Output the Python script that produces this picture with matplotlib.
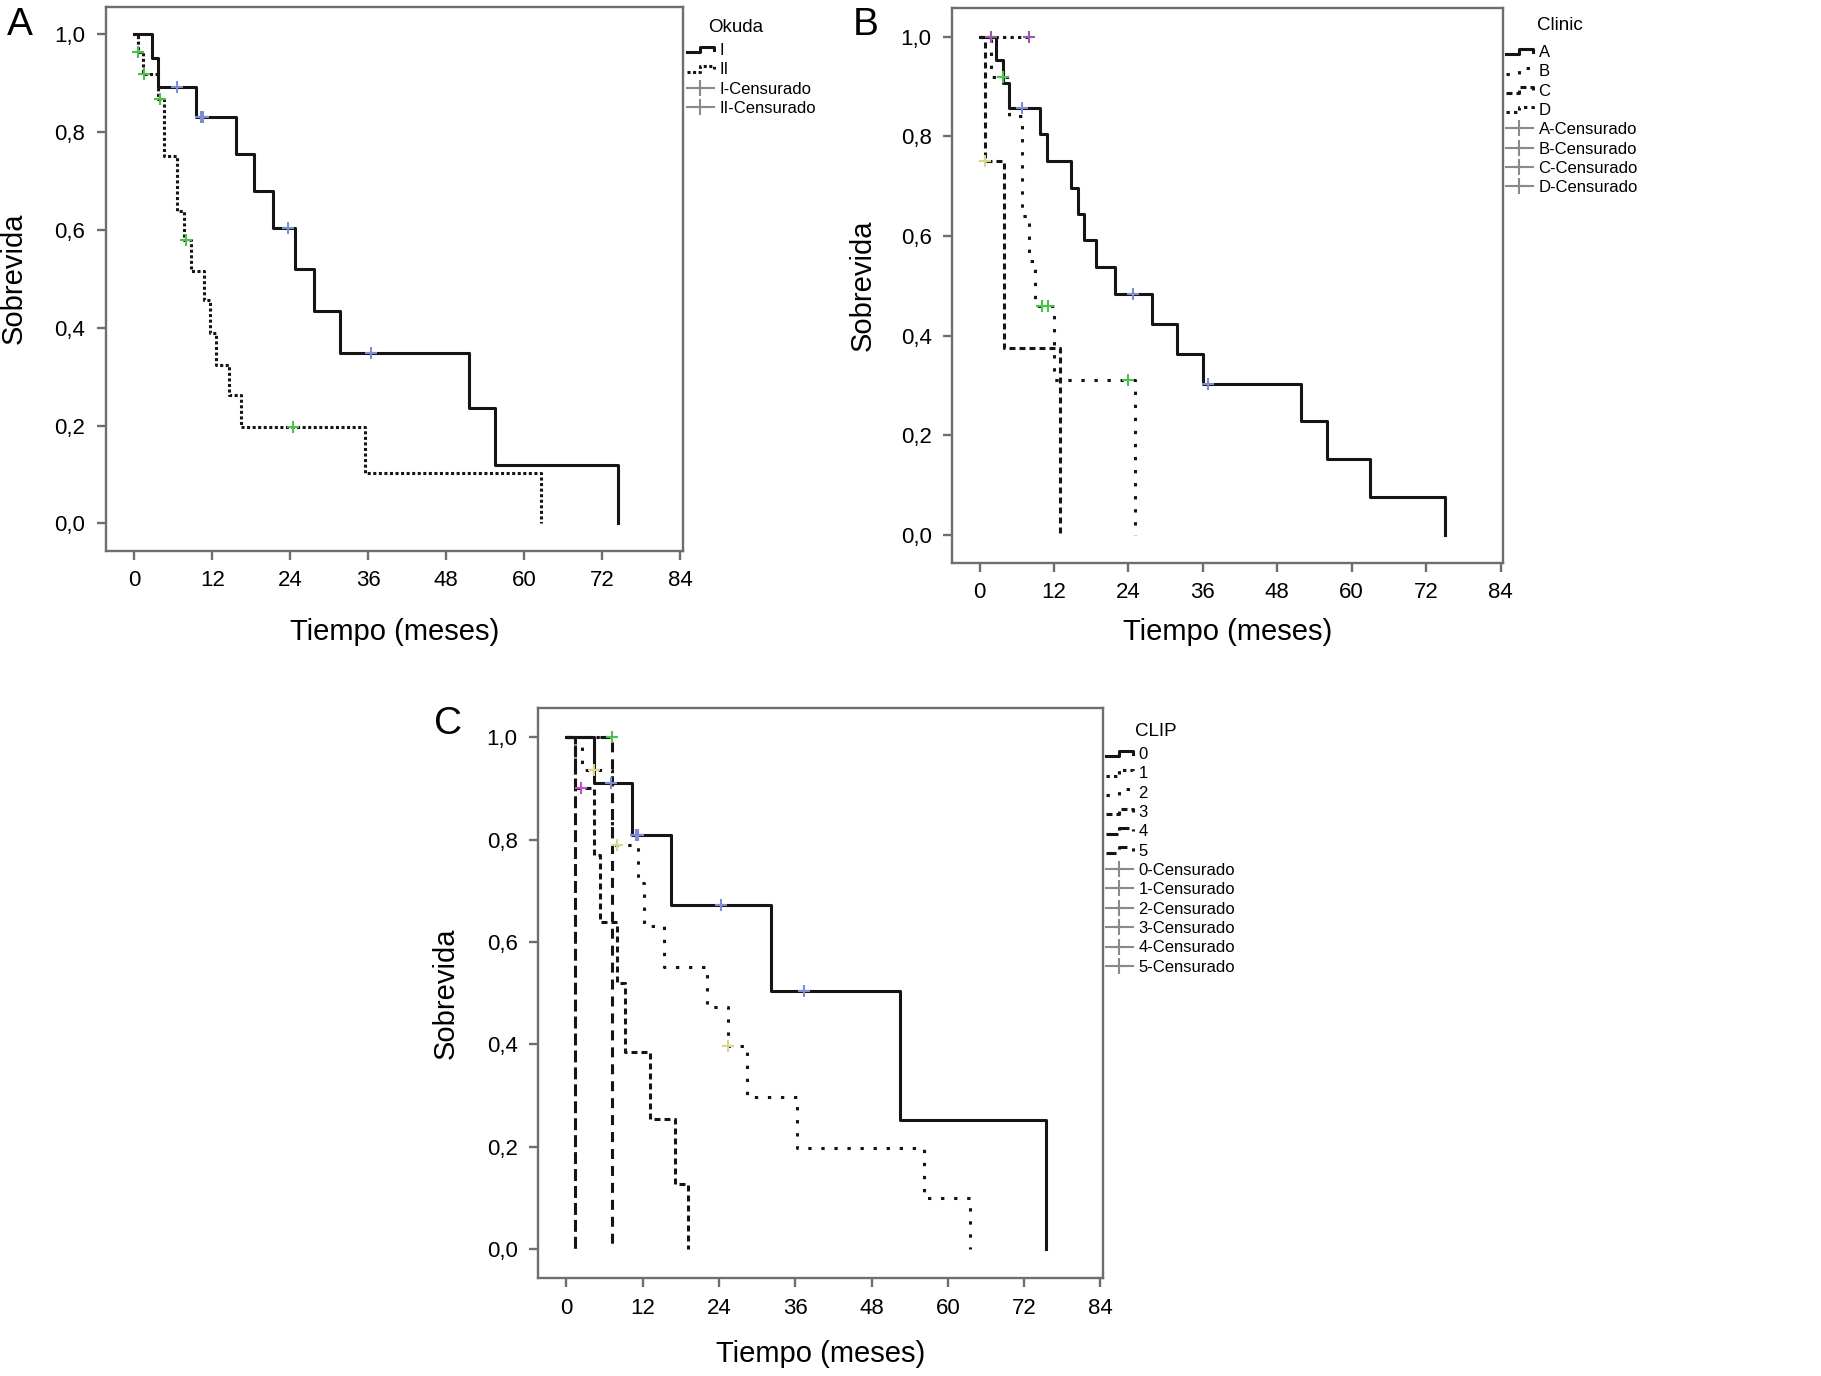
import matplotlib
matplotlib.use('Agg')
import matplotlib.pyplot as plt
from matplotlib.lines import Line2D
from matplotlib.legend_handler import HandlerBase

plt.rcParams['font.family'] = ['Liberation Sans', 'DejaVu Sans']
plt.rcParams['lines.scale_dashes'] = False

# ---- axis ticks ----
xticks = [0, 12, 24, 36, 48, 60, 72, 84]
yticks = [0.0, 0.2, 0.4, 0.6, 0.8, 1.0]
ylabels = ['0,0', '0,2', '0,4', '0,6', '0,8', '1,0']

# ---- panel A : Okuda ----
a_I_t = [2.7, 3.7, 9.5, 15.6, 18.5, 21.4, 24.7, 27.6, 31.6, 51.5, 55.5, 74.5]
a_I_s = [0.951, 0.893, 0.831, 0.755, 0.680, 0.604, 0.520, 0.434, 0.348, 0.235, 0.120, 0.0]
a_I_ct = [6.6, 10.2, 10.6, 23.7, 36.4]
a_I_cs = [0.893, 0.831, 0.831, 0.604, 0.348]

a_II_t = [0.6, 1.4, 3.7, 4.5, 6.6, 7.6, 8.7, 10.8, 11.7, 12.6, 14.5, 16.4, 35.5, 62.6]
a_II_s = [0.964, 0.918, 0.867, 0.751, 0.639, 0.580, 0.516, 0.457, 0.390, 0.323, 0.262, 0.196, 0.103, 0.0]
a_II_ct = [0.6, 1.5, 3.9, 7.9, 24.5]
a_II_cs = [0.964, 0.918, 0.867, 0.580, 0.196]

# ---- panel B : Clinic ----
b_A_t = [2.7, 3.8, 4.8, 9.8, 10.9, 14.8, 15.9, 16.8, 18.7, 21.8, 27.8, 31.9, 36.0, 51.9, 56.1, 62.9, 75.0]
b_A_s = [0.954, 0.908, 0.857, 0.804, 0.751, 0.697, 0.644, 0.591, 0.537, 0.483, 0.424, 0.363, 0.303,
         0.228, 0.152, 0.076, 0.0]
b_A_ct = [6.8, 24.8, 36.8]
b_A_cs = [0.857, 0.483, 0.303]

b_B_t = [1.8, 4.8, 6.8, 7.9, 8.9, 12.0, 25.0]
b_B_s = [0.92, 0.84, 0.64, 0.55, 0.46, 0.31, 0.0]
b_B_ct = [3.7, 10.0, 11.0, 24.0]
b_B_cs = [0.92, 0.46, 0.46, 0.31]

b_C_t = [0.9, 3.9, 12.9]
b_C_s = [0.75, 0.375, 0.0]
b_C_ct = [0.9]
b_C_cs = [0.75]

b_D_t = []
b_D_s = []
b_D_end = 7.9
b_D_ct = [1.9, 7.9]
b_D_cs = [1.0, 1.0]

# ---- panel C : CLIP ----
c_0_t = [4.3, 10.3, 16.4, 32.2, 52.4, 75.4]
c_0_s = [0.910, 0.809, 0.673, 0.505, 0.253, 0.0]
c_0_ct = [7.0, 10.9, 11.3, 24.3, 37.4]
c_0_cs = [0.910, 0.809, 0.809, 0.673, 0.505]

c_1_t = []
c_1_s = []
c_1_end = 7.2
c_1_ct = [7.2]
c_1_cs = [1.0]

c_2_t = [2.5, 7.2, 11.3, 12.3, 15.3, 22.2, 25.4, 28.4, 36.3, 56.2, 63.5]
c_2_s = [0.935, 0.79, 0.715, 0.632, 0.552, 0.474, 0.397, 0.297, 0.197, 0.10, 0.0]
c_2_ct = [4.3, 7.9, 25.5]
c_2_cs = [0.935, 0.79, 0.397]

c_3_t = [1.3, 4.3, 5.3, 8.0, 9.2, 13.2, 17.1, 19.2]
c_3_s = [0.90, 0.77, 0.64, 0.52, 0.385, 0.255, 0.128, 0.0]
c_3_ct = [2.3]
c_3_cs = [0.90]

c_4_t = [1.3]
c_4_s = [0.0]

c_5_t = [7.2]
c_5_s = [0.0]

LW = 2.2
INK = '#151515'
SPINE = '#6e6e6e'
solid = '-'
dense_dot = (0, (2.2, 1.8))
sparse_dot = (0, (2.4, 7.0))
mid_dot = (0, (2.4, 3.0))
short_dash = (0, (4.3, 2.9))
long_dash = (0, (8.6, 3.6))
mid_dash = (0, (7.2, 5.0))

c_blue = '#7d8ed6'
c_green = '#4cc24c'
c_beige = '#d6d690'
c_purple = '#9b5aa8'
c_magenta = '#c94fc9'


class StepHandler(HandlerBase):
    # little step icon like the SPSS legend
    def create_artists(self, legend, orig_handle, xdescent, ydescent, width, height, fontsize, trans):
        x0 = -xdescent
        y0 = -ydescent
        ylo = y0 + 0.22 * height
        yhi = y0 + 0.72 * height
        xs = [x0, x0 + 0.5 * width, x0 + 0.5 * width, x0 + width, x0 + width]
        ys = [ylo, ylo, yhi, yhi, yhi - 0.28 * height]
        line = Line2D(xs, ys)
        line.update_from(orig_handle)
        line.set_transform(trans)
        return [line]


def km(ax, t, s, ls, ct=None, cs=None, ccol=None, end=None):
    tt = [0] + list(t)
    ss = [1.0] + list(s)
    if end is not None:
        tt.append(end)
        ss.append(ss[-1])
    ax.step(tt, ss, where='post', color=INK, lw=LW, linestyle=ls, zorder=3)
    if ct:
        ax.plot(ct, cs, ls='none', marker='+', ms=9, mew=1.5, color=ccol, zorder=4)


def style_axes(ax, xlab_off, ylab_off):
    ax.set_xlim(-4.4, 84.4)
    ax.set_ylim(-0.056, 1.057)
    ax.set_xticks(xticks)
    ax.set_yticks(yticks)
    ax.set_yticklabels(ylabels)
    for sp in ax.spines.values():
        sp.set_color(SPINE)
        sp.set_linewidth(1.7)
    ax.tick_params(direction='out', length=6.5, width=1.7, color=SPINE, labelsize=16)
    ax.tick_params(axis='x', pad=7.6)
    ax.tick_params(axis='y', pad=8.4)
    ax.set_xlabel('Tiempo (meses)', fontsize=21)
    ax.set_ylabel('Sobrevida', fontsize=21)
    w = ax.get_position().width * 1821
    h = ax.get_position().height * 1376
    ax.xaxis.label.set_va('center')
    ax.yaxis.label.set_va('center')
    ax.xaxis.set_label_coords(0.5, -xlab_off / h)
    ax.yaxis.set_label_coords(-ylab_off / w, 0.5)


def make_legend(ax, fig, title, tpos, names, styles, lpos):
    step_h = [Line2D([0], [0], color=INK, lw=2.2, linestyle=st) for st in styles]
    cens_h = [Line2D([0], [0], color='#8a8a8a', lw=1.5, marker='+', ms=11, mew=1.5) for _ in names]
    labels = list(names) + [n + '-Censurado' for n in names]
    hm = {h: StepHandler() for h in step_h}
    ax.legend(step_h + cens_h, labels, handler_map=hm, loc='upper left',
              bbox_to_anchor=(lpos[0] / 1821, 1 - lpos[1] / 1376), bbox_transform=fig.transFigure,
              frameon=False, fontsize=12, handlelength=1.6, handletextpad=0.35,
              labelspacing=0.26, borderpad=0, borderaxespad=0)
    fig.text(tpos[0] / 1821, 1 - tpos[1] / 1376, title, fontsize=13.5, ha='left', va='center')


fig = plt.figure(figsize=(18.21, 13.76), dpi=100)

axA = fig.add_axes([105.7 / 1821, 1 - 550.7 / 1376, 577 / 1821, 544.2 / 1376])
axB = fig.add_axes([952.3 / 1821, 1 - 562.7 / 1376, 550.7 / 1821, 554.3 / 1376])
axC = fig.add_axes([538.3 / 1821, 1 - 1278 / 1376, 564.7 / 1821, 570 / 1376])

# A
km(axA, a_II_t, a_II_s, dense_dot, a_II_ct, a_II_cs, c_green)
km(axA, a_I_t, a_I_s, solid, a_I_ct, a_I_cs, c_blue)
style_axes(axA, 81, 92)
make_legend(axA, fig, 'Okuda', (708, 27), ['I', 'II'], [solid, dense_dot], (687, 43))

# B
km(axB, b_C_t, b_C_s, short_dash, b_C_ct, b_C_cs, c_beige)
km(axB, b_B_t, b_B_s, sparse_dot, b_B_ct, b_B_cs, c_green)
km(axB, b_D_t, b_D_s, mid_dot, b_D_ct, b_D_cs, c_purple, end=b_D_end)
km(axB, b_A_t, b_A_s, solid, b_A_ct, b_A_cs, c_blue)
style_axes(axB, 69, 90)
make_legend(axB, fig, 'Clinic', (1537, 26), ['A', 'B', 'C', 'D'],
            [solid, sparse_dot, short_dash, mid_dot], (1506, 45))

# C
km(axC, c_4_t, c_4_s, long_dash)
km(axC, c_5_t, c_5_s, mid_dash)
km(axC, c_3_t, c_3_s, short_dash, c_3_ct, c_3_cs, c_magenta)
km(axC, c_2_t, c_2_s, sparse_dot, c_2_ct, c_2_cs, c_beige)
km(axC, c_1_t, c_1_s, mid_dot, c_1_ct, c_1_cs, c_green, end=c_1_end)
km(axC, c_0_t, c_0_s, solid, c_0_ct, c_0_cs, c_blue)
style_axes(axC, 76, 93)
make_legend(axC, fig, 'CLIP', (1135.5, 731.6), ['0', '1', '2', '3', '4', '5'],
            [solid, mid_dot, sparse_dot, short_dash, long_dash, mid_dash], (1106, 747))

# panel letters
fig.text(19.5 / 1821, 1 - 25 / 1376, 'A', fontsize=28, ha='center', va='center')
fig.text(866 / 1821, 1 - 25 / 1376, 'B', fontsize=28, ha='center', va='center')
fig.text(448 / 1821, 1 - 724 / 1376, 'C', fontsize=28, ha='center', va='center')

fig.savefig('out.png', dpi=100)
